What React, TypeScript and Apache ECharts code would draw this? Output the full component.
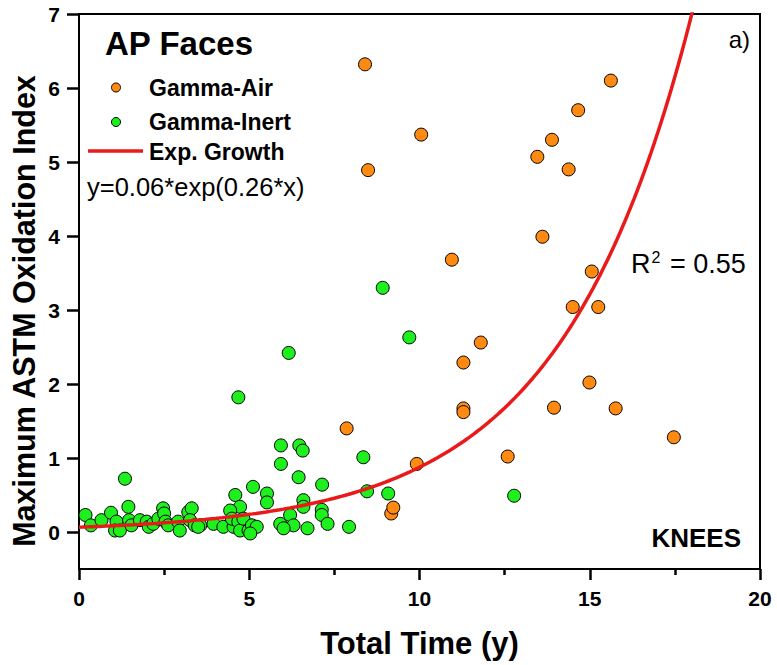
import React, { useEffect, useRef } from "react";
import * as echarts from "echarts";

const xTicks = [0, 5, 10, 15, 20];
const yTicks = [0, 1, 2, 3, 4, 5, 6, 7];
const Y_MIN = -0.5;
const Y_MAX = 7;

const gammaAir: [number, number][] = [
  [8.4, 6.32], [15.62, 6.1], [14.66, 5.7], [10.05, 5.37], [13.89, 5.3], [13.46, 5.07],
  [8.49, 4.89], [14.38, 4.9], [13.61, 3.99], [10.95, 3.68], [15.06, 3.52], [14.5, 3.04],
  [15.25, 3.04], [11.8, 2.56], [11.29, 2.29], [14.99, 2.02], [11.29, 1.67], [11.29, 1.62],
  [13.95, 1.68], [15.76, 1.67], [17.47, 1.28], [12.59, 1.02], [9.92, 0.92], [7.86, 1.4],
  [9.17, 0.25], [9.23, 0.33],
];

const gammaInert: [number, number][] = [
  [8.92, 3.3], [9.7, 2.63], [6.16, 2.42], [4.68, 1.82], [5.93, 1.17], [6.47, 1.17],
  [6.57, 1.1], [5.93, 0.92], [8.35, 1.01], [6.45, 0.74], [1.35, 0.72], [7.14, 0.64],
  [5.11, 0.61], [8.46, 0.55], [9.08, 0.52], [12.78, 0.49], [5.52, 0.52], [5.52, 0.4],
  [4.59, 0.5], [4.73, 0.34], [4.44, 0.29], [6.59, 0.43], [6.59, 0.34], [7.13, 0.3],
  [7.13, 0.23], [7.3, 0.11], [6.2, 0.23], [6.3, 0.09], [5.91, 0.11], [6.01, 0.05],
  [6.71, 0.05], [7.93, 0.07],
  [3.56, 0.09], [3.95, 0.11], [4.24, 0.07], [4.54, 0.07], [4.49, 0.18], [4.68, 0.14],
  [4.73, 0.02], [4.83, 0.18], [4.98, 0.02], [5.08, 0.09], [5.22, 0.07], [5.03, -0.02],
  [0.19, 0.23], [0.35, 0.09], [0.66, 0.16], [0.94, 0.26], [1.1, 0.14], [1.06, 0.02],
  [1.2, 0.02], [1.45, 0.34], [1.47, 0.16], [1.54, 0.09], [1.79, 0.16], [1.99, 0.14],
  [2.05, 0.07], [2.18, 0.11], [2.33, 0.18], [2.47, 0.32], [2.5, 0.25], [2.54, 0.14],
  [2.62, 0.09], [2.91, 0.14], [2.96, 0.02], [3.21, 0.27], [3.31, 0.32], [3.26, 0.16],
  [3.4, 0.09], [3.5, 0.07],
];

// Exponential growth fit y = A * exp(B * x)
const FIT_A = 0.065;
const FIT_B = 0.26;
const fitX: number[] = [];
for (let i = 0; i <= 200; i++) fitX.push(i / 10);
const fitLine = fitX.map((x) => [x, FIT_A * Math.exp(FIT_B * x)]);

const FONT = "'Liberation Sans', Arial, sans-serif";
const ORANGE = "#ff8a12";
const GREEN = "#1ef01e";
const RED = "#ea1a1a";

export default function App() {
  const ref = useRef<HTMLDivElement>(null);
  useEffect(() => {
    if (!ref.current) return;
    const chart = echarts.init(ref.current, undefined, { renderer: "svg" });
    chart.setOption({
      animation: false,
      grid: {
        left: 79,
        top: 14,
        right: 17,
        bottom: 96,
        show: true,
        borderColor: "#000",
        borderWidth: 2,
      },
      xAxis: {
        type: "value",
        min: xTicks[0],
        max: xTicks[xTicks.length - 1],
        interval: 5,
        name: "Total Time (y)",
        nameLocation: "middle",
        nameGap: 59,
        nameTextStyle: { fontFamily: FONT, fontWeight: "bold", fontSize: 31, color: "#000" },
        axisLine: { show: true, onZero: false, lineStyle: { color: "#000", width: 2 } },
        axisTick: { show: true, length: 11, lineStyle: { color: "#000", width: 2.5 } },
        minorTick: { show: true, splitNumber: 2, length: 6, lineStyle: { color: "#000", width: 2.5 } },
        splitLine: { show: false },
        axisLabel: {
          margin: 19,
          fontFamily: FONT,
          fontWeight: "bold",
          fontSize: 21,
          color: "#000",
        },
      },
      yAxis: {
        type: "value",
        min: Y_MIN,
        max: Y_MAX,
        axisLine: { show: true, onZero: false, lineStyle: { color: "#000", width: 2 } },
        axisTick: { show: true, length: 12, lineStyle: { color: "#000", width: 2.5 }, customValues: yTicks },
        splitLine: { show: false },
        axisLabel: {
          margin: 19,
          fontFamily: FONT,
          fontWeight: "bold",
          fontSize: 21,
          color: "#000",
          customValues: yTicks,
        },
      },
      series: [
        {
          name: "Gamma-Air",
          type: "scatter",
          data: gammaAir,
          symbol: "circle",
          symbolSize: 13,
          itemStyle: { color: ORANGE, borderColor: "#000", borderWidth: 1, opacity: 1 },
          z: 2,
        },
        {
          name: "Gamma-Inert",
          type: "scatter",
          data: gammaInert,
          symbol: "circle",
          symbolSize: 13,
          itemStyle: { color: GREEN, borderColor: "#000", borderWidth: 1, opacity: 1 },
          z: 3,
        },
        {
          name: "Exp. Growth",
          type: "line",
          data: fitLine,
          showSymbol: false,
          smooth: false,
          clip: true,
          lineStyle: { color: RED, width: 3.5 },
          z: 4,
        },
      ],
      graphic: [
        {
          type: "text",
          x: 105,
          y: 43,
          style: { text: "AP Faces", fontFamily: FONT, fontWeight: "bold", fontSize: 33, fill: "#000", verticalAlign: "middle" },
        },
        {
          type: "circle",
          shape: { cx: 116, cy: 87.5, r: 4.5 },
          style: { fill: ORANGE, stroke: "#000", lineWidth: 1 },
        },
        {
          type: "text",
          x: 149,
          y: 87.5,
          style: { text: "Gamma-Air", fontFamily: FONT, fontWeight: "bold", fontSize: 23, fill: "#000", verticalAlign: "middle" },
        },
        {
          type: "circle",
          shape: { cx: 116, cy: 122, r: 4.5 },
          style: { fill: GREEN, stroke: "#000", lineWidth: 1 },
        },
        {
          type: "text",
          x: 149,
          y: 122,
          style: { text: "Gamma-Inert", fontFamily: FONT, fontWeight: "bold", fontSize: 23, fill: "#000", verticalAlign: "middle" },
        },
        {
          type: "line",
          shape: { x1: 88, y1: 151, x2: 143, y2: 151 },
          style: { stroke: RED, lineWidth: 3.5 },
        },
        {
          type: "text",
          x: 149,
          y: 151.5,
          style: { text: "Exp. Growth", fontFamily: FONT, fontWeight: "bold", fontSize: 23, fill: "#000", verticalAlign: "middle" },
        },
        {
          type: "text",
          x: 87,
          y: 187,
          style: { text: "y=0.06*exp(0.26*x)", fontFamily: FONT, fontSize: 25.5, fill: "#000", verticalAlign: "middle" },
        },
        {
          type: "text",
          x: 750,
          y: 39,
          style: { text: "a)", fontFamily: FONT, fontSize: 24, fill: "#000", align: "right", verticalAlign: "middle" },
        },
        {
          type: "text",
          x: 631,
          y: 264,
          style: {
            text: "R{sup|2} = 0.55",
            fontFamily: FONT,
            fontSize: 27,
            fill: "#000",
            verticalAlign: "middle",
            rich: { sup: { fontFamily: FONT, fontSize: 16, verticalAlign: "top", padding: [0, 2, 14, 1] } },
          },
        },
        {
          type: "text",
          x: 741,
          y: 538,
          style: { text: "KNEES", fontFamily: FONT, fontWeight: "bold", fontSize: 26, fill: "#000", align: "right", verticalAlign: "middle" },
        },
        {
          type: "text",
          x: 24,
          y: 311,
          rotation: Math.PI / 2,
          style: {
            text: "Maximum ASTM Oxidation Index",
            fontFamily: FONT,
            fontWeight: "bold",
            fontSize: 30.5,
            fill: "#000",
            align: "center",
            verticalAlign: "middle",
          },
        },
      ],
    });
    return () => chart.dispose();
  }, []);
  return (
    <div
      ref={ref}
      style={{ position: "fixed", left: 0, top: 0, width: 777, height: 665, background: "#fff" }}
    />
  );
}
